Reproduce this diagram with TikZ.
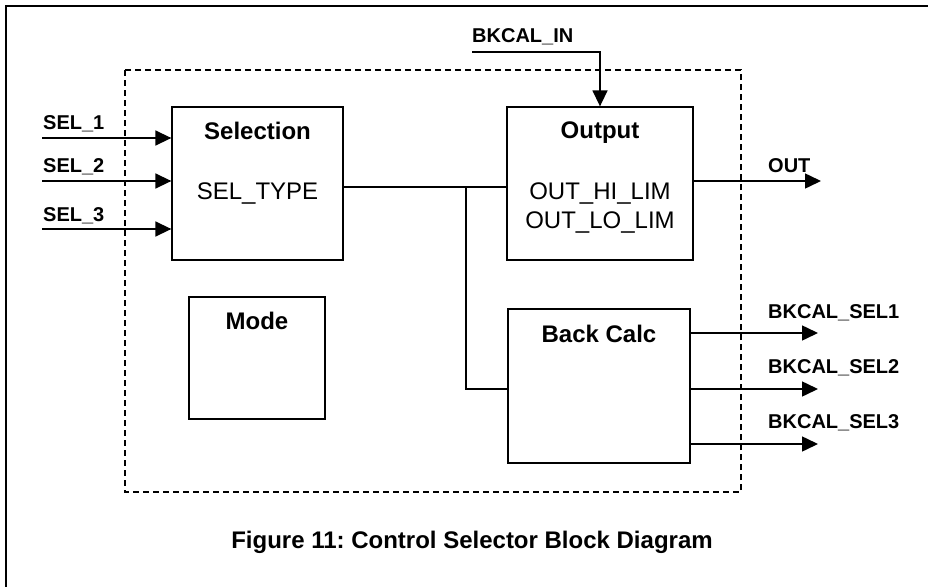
\documentclass[tikz,border=0pt]{standalone}
\usepackage{fontspec}
\setmainfont{Liberation Sans}
\usetikzlibrary{arrows.meta}
\frenchspacing
\tikzset{
  blk/.style={draw=black, line width=1.3pt, fill=white, inner sep=0pt},
  ttl/.style={font=\fontsize{24}{28}\selectfont\bfseries, anchor=base, inner sep=0pt},
  prm/.style={font=\fontsize{24}{28}\selectfont, anchor=base, inner sep=0pt},
  sig/.style={font=\fontsize{20}{24}\selectfont\bfseries, anchor=base west, inner sep=0pt},
  wire/.style={line width=1.5pt},
  arr/.style={line width=1.5pt, -{Triangle[length=16pt,width=15pt]}},
}
\begin{document}
\begin{tikzpicture}[x=1pt,y=-1pt]
\useasboundingbox (0,0) rectangle (928,586);
% outer frame
\draw[line width=2pt] (6,600) -- (6,6) -- (940,6);
% dashed boundary
\draw[dashed, dash pattern=on 6pt off 4pt, line width=1.6pt] (125,70) rectangle (741,492);
% blocks
\node[blk, minimum width=171pt, minimum height=153pt] (sel) at (257.5,183.5) {};
\node[blk, minimum width=186pt, minimum height=153pt] (out) at (600,183.5) {};
\node[blk, minimum width=136pt, minimum height=122pt] (mode) at (257,358) {};
\node[blk, minimum width=182pt, minimum height=154pt] (back) at (599,386) {};
% block texts
\node[ttl] (selT) at (257.5,139) {Selection};
\node[prm] (selP) at (257.5,199) {SEL\_TYPE};
\node[ttl] (outT) at (600,138) {Output};
\node[prm] (outP1) at (600,199) {OUT\_HI\_LIM};
\node[prm] (outP2) at (600,228) {OUT\_LO\_LIM};
\node[ttl] (modeT) at (257,329) {Mode};
\node[ttl] (backT) at (599,342) {Back Calc};
% inputs
\coordinate (s1) at (42,138);
\coordinate (s2) at (42,181);
\coordinate (s3) at (42,229);
\node[sig] (s1L) at (43,129) {SEL\_1};
\node[sig] (s2L) at (43,172) {SEL\_2};
\node[sig] (s3L) at (43,221) {SEL\_3};
\draw[arr] (s1) -- (s1 -| sel.west);
\draw[arr] (s2) -- (s2 -| sel.west);
\draw[arr] (s3) -- (s3 -| sel.west);
% BKCAL_IN
\coordinate (bi) at (472,52);
\node[sig] (biL) at (472,43) {BKCAL\_IN};
\draw[arr] (bi) -| (out.north);
% internal wiring
\coordinate (j) at (466,187);
\coordinate (jb) at (466,389);
\draw[wire] (sel.east |- j) -- (out.west |- j);
\draw[wire] (j) -- (jb) -- (jb -| back.west);
% OUT
\coordinate (o) at (821,181);
\node[sig] (oL) at (768,172) {OUT};
\draw[arr] (o -| out.east) -- (o);
% BKCAL_SEL outputs
\coordinate (b1) at (818,333);
\coordinate (b2) at (818,389);
\coordinate (b3) at (818,444);
\node[sig] (b1L) at (768,318) {BKCAL\_SEL1};
\node[sig] (b2L) at (768,373) {BKCAL\_SEL2};
\node[sig] (b3L) at (768,428) {BKCAL\_SEL3};
\draw[arr] (b1 -| back.east) -- (b1);
\draw[arr] (b2 -| back.east) -- (b2);
\draw[arr] (b3 -| back.east) -- (b3);
% caption
\node[ttl] (cap) at (472,548) {Figure 11: Control Selector Block Diagram};
\end{tikzpicture}
\end{document}
